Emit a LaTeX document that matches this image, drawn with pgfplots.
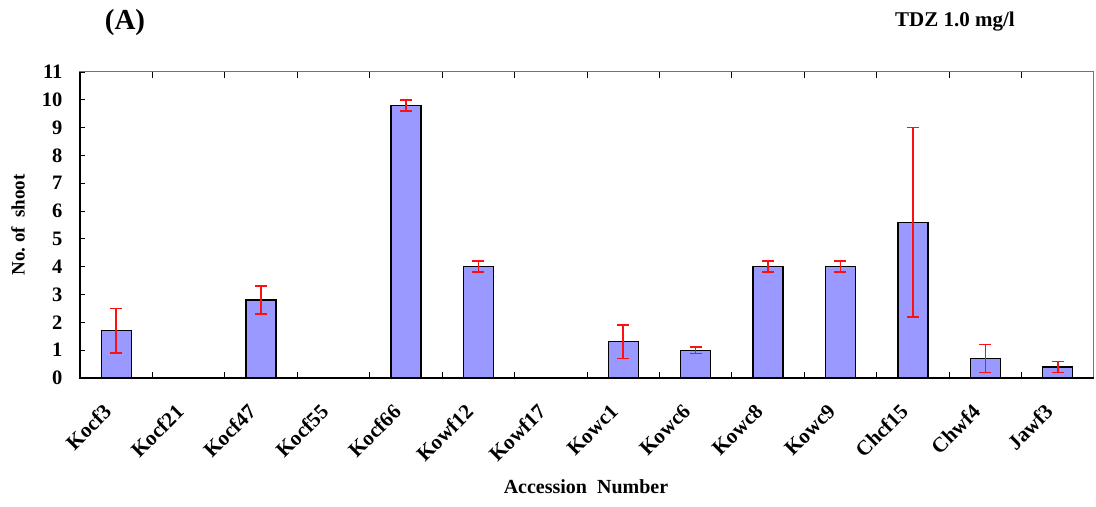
\documentclass[border=0pt]{standalone}
\usepackage{fontspec}
\setmainfont{Liberation Serif}
\usepackage{pgfplots}
\pgfplotsset{compat=1.18}

\definecolor{barblue}{HTML}{9999FF}
\definecolor{errred}{HTML}{FF1010}

\begin{document}
\begin{tikzpicture}
\begin{axis}[
  at={(0,0)}, anchor=south west,
  scale only axis,
  width=1014bp, height=306bp,
  xmin=-0.5, xmax=13.5,
  ymin=0, ymax=11,
  ytick={0,1,...,11},
  xtick={0,1,...,13},
  xticklabels={Kocf3,Kocf21,Kocf47,Kocf55,Kocf66,Kowf12,Kowf17,Kowc1,Kowc6,Kowc8,Kowc9,Chcf15,Chwf4,Jawf3},
  minor xtick={0.5,1.5,...,12.5},
  major x tick style={draw=none},
  minor x tick style={black, line width=0.9bp},
  minor tick length=6bp,
  major tick length=5bp,
  y tick style={black, line width=0.9bp},
  tick align=inside,
  ytick pos=left,
  axis line style={black!55, line width=1bp},
  yticklabel style={font=\fontsize{20.5bp}{22bp}\selectfont\bfseries, xshift=-14bp},
  xticklabel style={font=\fontsize{21bp}{23bp}\selectfont\bfseries,
    rotate=45, anchor=east, xshift=-24bp, yshift=-15bp},
  /pgf/number format/assume math mode=true,
  xlabel={Accession\ \ Number},
  xlabel style={font=\fontsize{20bp}{22bp}\selectfont\bfseries,
    at={(axis description cs:0.499,-0.356)}, anchor=center},
  ylabel={No.\ of\ \ shoot},
  ylabel style={font=\fontsize{19bp}{21bp}\selectfont\bfseries,
    at={(axis description cs:-0.061,0.5)}, anchor=center, rotate=0},
  clip=false,
]
\addplot[
  ybar, bar width=30bp, fill=barblue, draw=black, line width=1.3bp,
  error bars/.cd, y dir=both, y explicit,
  error bar style={errred, line width=1.6bp},
  error mark options={rotate=90, errred, mark size=6bp, line width=1.6bp},
] table[x=x, y=y, y error=e] {
x  y    e
0  1.7  0.8
1  0    0
2  2.8  0.5
3  0    0
4  9.8  0.2
5  4.0  0.2
6  0    0
7  1.3  0.6
8  1.0  0.12
9  4.0  0.2
10 4.0  0.2
11 5.6  3.4
12 0.7  0.5
13 0.4  0.2
};
\draw[black, line width=1.3bp] (rel axis cs:0,1) -- (rel axis cs:0,0) -- (rel axis cs:1,0);
\end{axis}
\node[font=\fontsize{29bp}{31bp}\selectfont\bfseries] at (45bp,355bp) {(A)};
\node[font=\fontsize{21bp}{23bp}\selectfont\bfseries] at (875bp,356bp) {TDZ 1.0 mg/l};
\useasboundingbox (-80bp,-129bp) rectangle (1016bp,378bp);
\end{tikzpicture}
\end{document}
